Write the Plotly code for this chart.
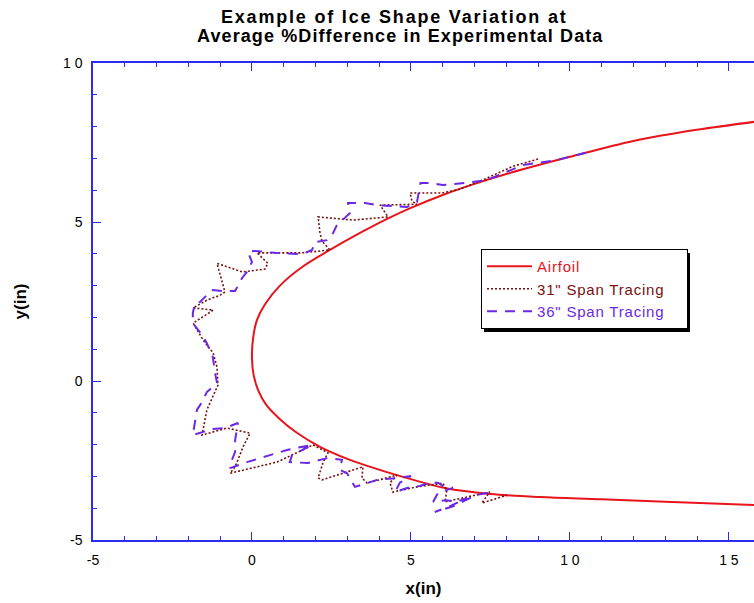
import plotly.graph_objects as go

# airfoil contour (upper surface from TE round LE to lower TE)
AIRFOIL_X = [15.8, 14.0, 12.0, 10.0, 8.0, 7.0, 6.0, 5.0, 4.25, 3.5, 2.45, 1.6, 0.88, 0.4, 0.15,
             0.03, 0.0, 0.05, 0.2, 0.45, 0.88, 1.4, 2.14, 3.0, 3.6, 4.8, 6.1, 7.5, 9.06, 11.0,
             13.0, 15.8]
AIRFOIL_Y = [8.15, 7.9, 7.55, 7.05, 6.51, 6.2, 5.85, 5.445, 5.1, 4.71, 4.12, 3.6, 3.0, 2.4, 1.9,
             1.3, 0.72, 0.2, -0.3, -0.75, -1.2, -1.62, -2.07, -2.45, -2.66, -3.03, -3.37, -3.55,
             -3.65, -3.72, -3.8, -3.9]

# 31" span ice tracing
SPAN31_X = [9.0, 8.2, 7.26, 6.5, 5.97, 5.82, 4.97, 5.03, 5.19, 4.03, 4.28, 3.18, 2.08, 2.14, 2.2,
            2.45, 1.57, 0.16, 0.5, 0.41, -0.31, -1.1, -0.85, -1.0, -1.4, -1.85, -1.22, -1.85,
            -1.54, -1.22, -1.1, -1.07, -1.42, -1.57, -0.79, -0.06, -0.28, -0.53, -0.69, 0.79,
            1.92, 2.39, 2.23, 2.08, 2.2, 3.49, 3.46, 3.62, 4.03, 4.56, 4.34, 4.43, 5.19, 6.0,
            6.13, 6.07, 6.76, 7.48, 7.23, 8.02]
SPAN31_Y = [6.98, 6.75, 6.32, 6.02, 5.91, 5.91, 5.91, 5.66, 5.56, 5.53, 5.16, 5.06, 5.16, 4.65,
            4.4, 4.12, 4.03, 4.03, 3.7, 3.52, 3.43, 3.7, 2.8, 2.7, 2.55, 2.3, 2.23, 1.82, 1.29,
            0.88, 0.44, -0.13, -0.91, -1.7, -1.48, -1.64, -2.07, -2.7, -2.9, -2.55, -2.01,
            -2.26, -2.58, -3.05, -3.11, -2.7, -3.05, -3.21, -3.11, -2.96, -3.2, -3.49, -3.33,
            -3.21, -3.43, -3.8, -3.65, -3.49, -3.84, -3.59]

# 36" span ice tracing
SPAN36_X = [10.5, 9.6, 8.52, 7.9, 7.39, 6.7, 6.0, 5.6, 5.3, 5.19, 4.87, 3.93, 3.55, 3.02, 3.08,
            2.92, 2.67, 2.52, 2.36, 1.98, 1.89, 1.57, 0.72, 0.09, -0.13, 0.0, -0.16, -0.31,
            -0.53, -0.91, -1.23, -1.42, -1.64, -1.79, -1.86, -1.86, -1.57, -1.42, -1.23, -1.16,
            -1.1, -1.42, -1.57, -1.73, -1.86, -1.23, -0.85, -0.44, -0.53, -0.53, -0.63, -0.69,
            -0.16, 0.57, 1.1, 1.42, 1.89, 1.26, 1.19, 1.76, 2.39, 2.83, 2.77, 2.99, 3.14, 3.24,
            3.62, 3.93, 4.18, 4.6, 5.0, 4.65, 4.5, 4.9, 5.28, 5.6, 5.85, 6.0, 6.32, 5.85, 5.7,
            6.1, 6.45, 6.76, 6.2, 5.75, 6.3, 7.07, 7.45]
SPAN36_Y = [7.18, 6.95, 6.79, 6.54, 6.32, 6.23, 6.16, 6.23, 6.23, 5.63, 5.47, 5.53, 5.6, 5.6,
            5.28, 5.13, 4.9, 4.59, 4.43, 4.37, 4.12, 3.99, 4.03, 4.09, 4.06, 3.74, 3.43, 3.24,
            2.83, 2.83, 2.86, 2.7, 2.48, 2.45, 2.14, 1.82, 1.45, 1.19, 0.75, 0.25, -0.06, -0.35,
            -0.66, -0.91, -1.7, -1.51, -1.48, -1.32, -1.86, -2.23, -2.48, -2.74, -2.55, -2.33,
            -2.17, -2.1, -2.01, -2.33, -2.55, -2.58, -2.42, -2.48, -2.8, -2.9, -3.18, -3.33,
            -3.21, -3.11, -3.08, -3.05, -2.99, -3.2, -3.49, -3.36, -3.3, -3.2, -3.2, -3.3, -3.36,
            -3.52, -3.8, -3.75, -3.8, -3.68, -3.95, -4.12, -3.95, -3.58, -3.52]

TICK_VALS_X = [-5, 0, 5, 10, 15]
TICK_TEXT_X = ["-5", "0", "5", "1 0", "1 5"]
TICK_VALS_Y = [-5, 0, 5, 10]
TICK_TEXT_Y = ["-5", "0", "5", "1 0"]
TITLE_LINES = ["Example of Ice Shape Variation at", "Average %Difference in Experimental Data"]

AXIS_BLUE = "#2c2cf0"
RED = "#e8141c"
DARK_RED = "#7a0f0f"
PURPLE = "#6a28e6"
FONT = "Liberation Sans, Arial"

W, H = 754, 603
L, R, T, B = 93, 0, 63, 63


def px_x(px):
    return (px - L) / (W - L - R)


def px_y(py):
    return (H - B - py) / (H - T - B)


def legend_name(text, color, pad=0):
    return f"<span style='color:{color};letter-spacing:0.8px'>{text}</span>" + "&nbsp;" * pad


fig = go.Figure()
fig.add_trace(go.Scatter(x=AIRFOIL_X, y=AIRFOIL_Y, mode="lines", line_shape="spline",
                         line=dict(color=RED, width=2), name=legend_name("Airfoil", RED)))
fig.add_trace(go.Scatter(x=SPAN31_X, y=SPAN31_Y, mode="lines",
                         line=dict(color=DARK_RED, width=1.6, dash="2px,2px"),
                         name=legend_name('31" Span Tracing', DARK_RED, 4)))
fig.add_trace(go.Scatter(x=SPAN36_X, y=SPAN36_Y, mode="lines",
                         line=dict(color=PURPLE, width=2, dash="10px,8px"),
                         name=legend_name('36" Span Tracing', PURPLE, 4)))

axis_common = dict(
    showgrid=False, zeroline=False, showline=True, linecolor=AXIS_BLUE, linewidth=1.5,
    ticks="inside", ticklen=8, tickcolor=AXIS_BLUE, tickwidth=1,
    minor=dict(ticks="inside", ticklen=4, tickcolor=AXIS_BLUE, dtick=1),
    tickfont=dict(family=FONT, size=14, color="black"),
    ticklabelstandoff=6,
)
fig.update_xaxes(range=[-5, 15.79], tickvals=TICK_VALS_X, ticktext=TICK_TEXT_X, mirror="ticks",
                 title=dict(text="<b>x(in)</b>", font=dict(family=FONT, size=17), standoff=16),
                 **axis_common)
fig.update_yaxes(range=[-5, 10], tickvals=TICK_VALS_Y, ticktext=TICK_TEXT_Y, mirror=False,
                 title=dict(text="<b>y(in)</b>", font=dict(family=FONT, size=17), standoff=32),
                 **axis_common)

for line, cx, spacing, cy in zip(TITLE_LINES, (394, 400), (1.8, 1.1), (17, 36)):
    fig.add_annotation(text=f"<b><span style='letter-spacing:{spacing}px'>{line}</span></b>",
                       xref="paper", yref="paper", x=px_x(cx), y=px_y(cy),
                       xanchor="center", yanchor="middle", showarrow=False,
                       font=dict(family=FONT, size=18, color="black"))

# drop shadow behind the legend box
fig.add_shape(type="rect", xref="paper", yref="paper",
              x0=px_x(484), x1=px_x(690), y0=px_y(332), y1=px_y(253),
              fillcolor="black", line=dict(width=0), layer="above")

fig.update_layout(
    width=W, height=H,
    margin=dict(l=L, r=R, t=T, b=B),
    paper_bgcolor="white", plot_bgcolor="white",
    legend=dict(x=px_x(481), y=px_y(249), xanchor="left", yanchor="top", bgcolor="white",
                bordercolor="black", borderwidth=1, itemwidth=45,
                font=dict(family=FONT, size=15)),
    font=dict(family=FONT, color="black"),
)
fig.write_html("out.html", config={"displayModeBar": False},
               post_script="document.body.style.margin='0';")
